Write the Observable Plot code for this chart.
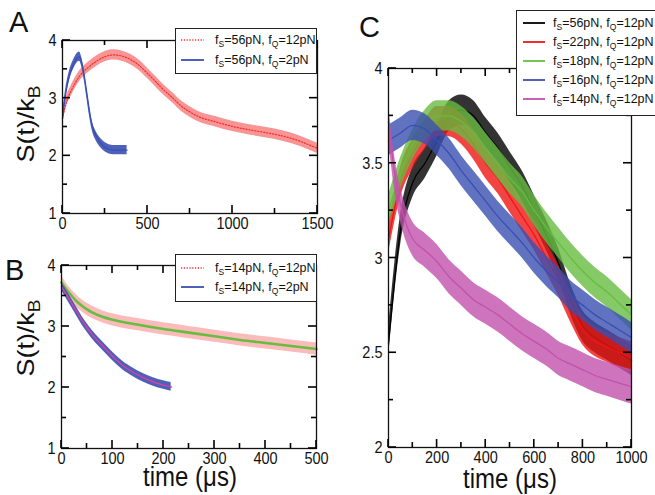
<!DOCTYPE html>
<html><head><meta charset="utf-8">
<script src="https://cdn.jsdelivr.net/npm/d3@7"></script>
<script src="https://cdn.jsdelivr.net/npm/@observablehq/plot@0.6"></script>
<style>
html,body{margin:0;padding:0;background:#fff;}
body{width:655px;height:495px;overflow:hidden;position:relative;font-family:"Liberation Sans",Arial,sans-serif;color:#111;}
.panel{position:absolute;}
.big{position:absolute;font-size:29px;line-height:1;}
.rot{position:absolute;font-size:24px;line-height:1;white-space:nowrap;}
.xlab{position:absolute;font-size:24px;line-height:1;white-space:nowrap;}
.legend{position:absolute;border:1.3px solid #222;background:#fff;box-sizing:border-box;}
.ltext{position:absolute;white-space:nowrap;font-size:12.5px;line-height:1;transform:translateY(-50%);}
.ltext sub{font-size:8.5px;vertical-align:-3px;line-height:0;}
.rot sub,.xlab sub{font-size:17px;vertical-align:-6px;line-height:0;}
.lsvg{position:absolute;overflow:visible;}
</style></head><body>
<script>
// ---------------- DATA ----------------
// Panel A  (fS=56pN)
const tA_red  = [0,25,50,100,150,200,250,300,350,400,450,500,550,600,650,700,750,800,900,1000,1100,1200,1300,1400,1450,1500];
const sA_red  = [2.65,2.95,3.12,3.38,3.53,3.64,3.72,3.75,3.73,3.67,3.57,3.43,3.28,3.13,3.0,2.86,2.76,2.68,2.59,2.51,2.45,2.4,2.34,2.25,2.19,2.13];
const tA_blue = [0,20,40,60,80,100,115,130,145,160,175,200,225,250,300,350,380];
const sA_blue = [2.65,3.1,3.38,3.55,3.67,3.72,3.6,3.35,3.05,2.75,2.52,2.33,2.22,2.15,2.1,2.1,2.1];
const noiseA = [0.09, 0.08];           // half-width of the noisy traces: red, blue

// Panel B  (fS=14pN)
const tB_red  = [0,10,20,30,40,50,60,80,100,150,200,250,300,350,400,450,500];
const sB_red  = [3.74,3.6,3.5,3.41,3.34,3.28,3.23,3.16,3.11,3.03,2.96,2.9,2.84,2.78,2.73,2.68,2.63];
const sB_fitG = [3.72,3.6,3.5,3.41,3.34,3.28,3.23,3.16,3.11,3.03,2.96,2.9,2.84,2.78,2.73,2.68,2.63];
const tB_blue = [0,10,20,30,40,50,60,75,90,105,120,140,160,180,200,215];
const sB_blue = [3.66,3.52,3.38,3.24,3.1,2.98,2.87,2.73,2.6,2.47,2.36,2.25,2.16,2.09,2.04,2.01];
const sB_fitM = [3.65,3.52,3.38,3.24,3.1,2.98,2.87,2.73,2.6,2.47,2.36,2.25,2.16,2.09,2.04,2.01];
const noiseB = [0.1, 0.07];

// Panel C  (fQ=12pN)
const tC = [0,50,100,150,200,250,300,350,400,450,500,550,600,650,700,750,800,850,900,950,1000];
const sC56 = [2.55,3.15,3.4,3.5,3.62,3.75,3.78,3.75,3.66,3.58,3.48,3.38,3.25,3.12,2.97,2.78,2.64,2.58,2.54,2.5,2.46];
const sC22 = [3.1,3.4,3.55,3.65,3.72,3.72,3.68,3.6,3.5,3.42,3.32,3.22,3.12,3.0,2.88,2.74,2.62,2.56,2.53,2.5,2.48];
const sC18 = [3.25,3.45,3.6,3.7,3.75,3.75,3.72,3.66,3.58,3.5,3.42,3.35,3.25,3.16,3.08,3.0,2.93,2.87,2.82,2.76,2.7];
const sC16 = [3.62,3.66,3.7,3.68,3.62,3.55,3.46,3.38,3.3,3.22,3.15,3.08,3.0,2.93,2.87,2.8,2.75,2.7,2.66,2.62,2.58];
const tC14 = [0,25,50,75,100,150,200,250,300,350,400,450,500,550,600,650,700,750,800,850,900,950,1000];
const sC14 = [3.72,3.45,3.28,3.17,3.1,3.04,2.98,2.9,2.84,2.78,2.74,2.7,2.65,2.6,2.56,2.52,2.47,2.44,2.41,2.38,2.36,2.34,2.32];
const noiseC = [0.08, 0.08, 0.08, 0.08, 0.09];

// legend labels (forces in pN)
const fsA = [56,56], fqA = [12,2];
const fsB = [14,14], fqB = [12,2];
const fsC = [56,22,18,16,14], fqC = [12,12,12,12,12];

// ticks
const xMajA = [0,500,1000,1500], xMinA = [250,750,1250];
const xMajB = [0,100,200,300,400,500], xMinB = [50,150,250,350,450];
const xMajC = [0,200,400,600,800,1000], xMinC = [100,300,500,700,900];
const yMajAB = [1,2,3,4], yMinAB = [1.5,2.5,3.5];
const yMajC = [2,2.5,3,3.5,4], yMinC = [2.25,2.75,3.25,3.75];

// ---------------- STYLE ----------------
const RED = "#f22a2a", BLUE = "#3a4fb2", GREEN = "#66bd40", MAG = "#c251ab", BLACK = "#000";
const colorsC = [BLACK, "#f01515", GREEN, BLUE, MAG];

const rows = (t, s, w) => t.map((x, i) => ({t: x, s: s[i], lo: s[i] - w, hi: s[i] + w}));

function noisy(data, color, op, lineOpts = {}) {
  return [
    Plot.areaY(data, {x: "t", y1: "lo", y2: "hi", fill: color, fillOpacity: op, curve: "monotone-x"}),
    Plot.lineY(data, {x: "t", y: "s", stroke: color, strokeWidth: 1.3, curve: "monotone-x", ...lineOpts})
  ];
}
const plain = (d) => String(d);
function axes(yMaj, xMaj) {
  return [
    Plot.frame({stroke: "#111", strokeWidth: 1.3}),
    Plot.axisY({anchor: "left", ticks: yMaj, tickSize: 0, tickPadding: 6, tickFormat: plain}),
    Plot.axisX({anchor: "bottom", ticks: xMaj, tickSize: 0, tickPadding: 3, tickFormat: plain})
  ];
}
// inward tick marks on all four sides, positioned through the plot's own scales
function inwardTicks(svg, xMaj, xMin, yMaj, yMin) {
  const sx = svg.scale("x"), sy = svg.scale("y");
  const [xl, xr] = sx.range, [yb, yt] = sy.range;
  const g = d3.select(svg).append("g").attr("stroke", "#000").attr("stroke-width", 1.6).attr("fill", "none");
  const add = (x1, y1, x2, y2) => g.append("line").attr("x1", x1).attr("y1", y1).attr("x2", x2).attr("y2", y2);
  [[xMaj, 8], [xMin, 5]].forEach(([ts, L]) => ts.forEach((v) => {
    const x = sx.apply(v);
    add(x, yb, x, yb - L); add(x, yt, x, yt + L);
  }));
  [[yMaj, 8], [yMin, 5]].forEach(([ts, L]) => ts.forEach((v) => {
    const y = sy.apply(v);
    add(xl, y, xl + L, y); add(xr, y, xr - L, y);
  }));
}
const plotStyle = {fontFamily: "'Liberation Sans', Arial, sans-serif", fontSize: "14.5px", color: "#111", background: "transparent", overflow: "visible"};

function stretch(svg, s) {
  svg.querySelectorAll("text").forEach(t => {
    const tr = t.getAttribute("transform");
    if (tr) t.setAttribute("transform", tr + ` scale(1,${s})`);
  });
}
function place(el, left, top) {
  const d = document.createElement("div");
  d.className = "panel"; d.style.left = left + "px"; d.style.top = top + "px";
  d.appendChild(el); document.body.appendChild(d);
}

// ---------------- PANEL A ----------------
const A = Plot.plot({
  width: 330, height: 240, marginLeft: 62, marginRight: 13, marginTop: 40, marginBottom: 27,
  x: {domain: [0, 1500], label: null}, y: {domain: [1, 4], label: null},
  style: plotStyle,
  marks: [
    ...noisy(rows(tA_red, sA_red, noiseA[0]), RED, 0.5, {strokeDasharray: "1.2,1.8", strokeWidth: 1.2}),
    ...noisy(rows(tA_blue, sA_blue, noiseA[1]), BLUE, 0.9),
    ...axes(yMajAB, xMajA)
  ]
});
stretch(A, 1.2);
inwardTicks(A, xMajA, xMinA, yMajAB, yMinAB);
place(A, 0, 0);

// ---------------- PANEL B ----------------
const B = Plot.plot({
  width: 330, height: 255, marginLeft: 61, marginRight: 14, marginTop: 25, marginBottom: 47,
  x: {domain: [0, 500], label: null}, y: {domain: [1, 4], label: null},
  style: plotStyle,
  marks: [
    ...noisy(rows(tB_red, sB_red, noiseB[0]), RED, 0.32, {strokeDasharray: "1.2,1.8", strokeWidth: 1}),
    Plot.lineY(rows(tB_red, sB_fitG, 0), {x: "t", y: "s", stroke: GREEN, strokeWidth: 2.6, curve: "monotone-x"}),
    ...noisy(rows(tB_blue, sB_blue, noiseB[1]), BLUE, 0.9),
    Plot.lineY(rows(tB_blue, sB_fitM, 0), {x: "t", y: "s", stroke: "#d8449e", strokeWidth: 1.4, curve: "monotone-x"}),
    ...axes(yMajAB, xMajB)
  ]
});
stretch(B, 1.2);
inwardTicks(B, xMajB, xMinB, yMajAB, yMinAB);
place(B, 0, 240);

// ---------------- PANEL C ----------------
const seriesC = [[tC, sC56], [tC, sC22], [tC, sC18], [tC, sC16], [tC14, sC14]];
const C = Plot.plot({
  width: 315, height: 495, marginLeft: 48, marginRight: 24, marginTop: 68, marginBottom: 48,
  x: {domain: [0, 1000], label: null}, y: {domain: [2, 4], label: null},
  style: plotStyle,
  marks: [
    ...seriesC.flatMap(([t, s], i) => noisy(rows(t, s, noiseC[i]), colorsC[i], 0.8)),
    ...axes(yMajC, xMajC)
  ]
});
stretch(C, 1.2);
inwardTicks(C, xMajC, xMinC, yMajC, yMinC);
place(C, 340, 0);

// ---------------- TEXT ----------------
function addText(cls, html, left, top, transform) {
  const d = document.createElement("div");
  d.className = cls; d.innerHTML = html;
  d.style.left = left + "px"; d.style.top = top + "px";
  if (transform) d.style.transform = transform;
  document.body.appendChild(d);
  return d;
}
addText("big", "A", 9, 8);
addText("big", "B", 5, 256);
addText("big", "C", 359, 13);
const ylabel = "S(t)/k<sub>B</sub>";
addText("rot", ylabel, 26, 124, "translate(-50%,-50%) scaleY(1.12) rotate(-90deg)");
addText("rot", ylabel, 26, 338, "translate(-50%,-50%) scaleY(1.12) rotate(-90deg)");
addText("xlab", "time (\u03bcs)", 190, 477, "translate(-50%,-50%) scaleY(1.18)");
addText("xlab", "time (\u03bcs)", 510, 479, "translate(-50%,-50%) scaleY(1.18)");

// ---------------- LEGENDS ----------------
const lab = (fs, fq) => `f<sub>S</sub>=${fs}pN, f<sub>Q</sub>=${fq}pN`;
const NS = "http://www.w3.org/2000/svg";
function legend(box, fs, fq, colors, dashed, ys, lineX, textX) {
  const d = document.createElement("div");
  d.className = "legend";
  Object.assign(d.style, {left: box[0] + "px", top: box[1] + "px", width: box[2] + "px", height: box[3] + "px"});
  document.body.appendChild(d);
  fs.forEach((v, i) => {
    const s = document.createElementNS(NS, "svg");
    s.setAttribute("class", "lsvg");
    s.setAttribute("width", lineX[1] - lineX[0]); s.setAttribute("height", 6);
    s.style.left = lineX[0] + "px"; s.style.top = (ys[i] - 3) + "px";
    const ln = document.createElementNS(NS, "line");
    ln.setAttribute("x1", 0); ln.setAttribute("x2", lineX[1] - lineX[0]);
    ln.setAttribute("y1", 3); ln.setAttribute("y2", 3);
    ln.setAttribute("stroke", colors[i]);
    ln.setAttribute("stroke-width", dashed[i] ? 1.4 : 1.8);
    if (dashed[i]) ln.setAttribute("stroke-dasharray", "1.2,1.6");
    s.appendChild(ln);
    document.body.appendChild(s);
    addText("ltext", lab(v, fq[i]), textX, ys[i]);
  });
}
legend([175, 28, 142, 46], fsA, fqA, [RED, BLUE], [true, false], [40, 60], [181, 204], 215);
legend([175, 254, 142, 48], fsB, fqB, [RED, BLUE], [true, false], [268, 287], [181, 204], 215);
legend([516, 10, 150, 106], fsC, fqC, colorsC, [false, false, false, false, false], [23, 42, 61, 80, 99], [523, 545], 553);
</script>
</body></html>
